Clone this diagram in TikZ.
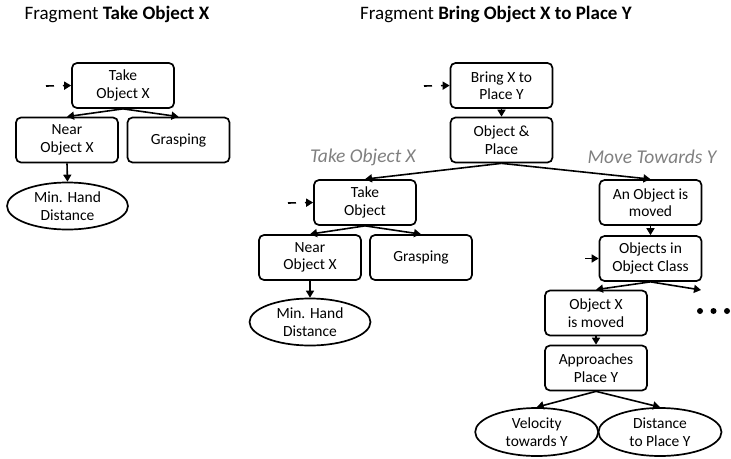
\documentclass[tikz,border=0pt]{standalone}
\usepackage{fontspec}
\setmainfont{Carlito}
\usetikzlibrary{shapes.geometric,arrows.meta}
\begin{document}
\begin{tikzpicture}[x=1pt,y=-1pt,
  box/.style={draw, rounded corners=5pt, line width=1.7pt, minimum width=102pt, minimum height=45pt, align=center, inner sep=0pt, font=\fontsize{15.5}{17.5}\selectfont},
  oval/.style={draw, ellipse, line width=1.7pt, minimum width=121pt, minimum height=47pt, align=center, inner sep=0pt, font=\fontsize{15.5}{17.5}\selectfont},
  ttl/.style={font=\fontsize{19}{22}\selectfont, inner sep=0pt},
  glbl/.style={font=\fontsize{19.5}{22}\selectfont\itshape, text=black!50, inner sep=0pt},
  arr/.style={-{Triangle[length=7pt,width=8pt]}, line width=1.6pt},
  darr/.style={arr, dash pattern=on 8pt off 9pt}]
\useasboundingbox (0,0) rectangle (731,458);

% titles
\node[ttl] (t1) at (117,14) {Fragment \textbf{Take Object X}};
\node[ttl] (t2) at (496,14) {Fragment \textbf{Bring Object X to Place Y}};

% left fragment
\node[box] (a1) at (123,85.5) {Take\\Object X};
\node[box] (a2) at (67,140) {Near\\Object X};
\node[box] (a3) at (178.5,140) {Grasping};
\node[oval] (a4) at (67.5,206) {Min. Hand\\Distance};
\coordinate (a0) at (46,86);
\draw[darr] (a0) -- (a1.west);
\draw[arr] (a1.south) -- (a2.north);
\draw[arr] (a1.south) -- (a3.north);
\draw[arr] (a2.south) -- (a4.north);

% right fragment
\node[box] (b1) at (501.5,85.5) {Bring X to\\Place Y};
\node[box] (b2) at (501.5,140) {Object \&\\Place};
\coordinate (b0) at (424,86);
\draw[darr] (b0) -- (b1.west);
\draw[arr] (b1.south) -- (b2.north);

\node[glbl] (l1) at (363,157) {Take Object X};
\node[glbl] (l2) at (652,157) {Move Towards Y};

\node[box] (c1) at (365,202.5) {Take\\Object};
\node[box] (c2) at (310,257.5) {Near\\Object X};
\node[box] (c3) at (421,257.5) {Grasping};
\node[oval] (c4) at (310,322) {Min. Hand\\Distance};
\coordinate (c0) at (288,203);
\draw[darr] (c0) -- (c1.west);
\draw[arr] (b2.south) -- (c1.north);
\draw[arr] (c1.south) -- (c2.north);
\draw[arr] (c1.south) -- (c3.north);
\draw[arr] (c2.south) -- (c4.north);

\node[box] (d1) at (650.5,202.5) {An Object is\\moved};
\node[box] (d2) at (650.5,258.5) {Objects in\\Object Class};
\node[box] (d3) at (596,313) {Object X\\is moved};
\node[box] (d4) at (596,368) {Approaches\\Place Y};
\node[oval, minimum width=123pt, minimum height=48pt] (d5) at (536.7,432) {Velocity\\towards Y};
\node[oval, minimum width=123pt, minimum height=48pt] (d6) at (660,432) {Distance\\to Place Y};
\coordinate (d0) at (585,258.5);
\coordinate (d7) at (701,290);
\draw[arr] (b2.south) -- (d1.north);
\draw[arr] (d1.south) -- (d2.north);
\draw[darr] (d0) -- (d2.west);
\draw[arr] (d2.south) -- (d3.north);
\draw[arr] (d2.south) -- (d7);
\draw[arr] (d3.south) -- (d4.north);
\draw[arr] (d4.south) -- (d5.north);
\draw[arr] (d4.south) -- (d6.north);
\fill (700,311) circle (3pt) (713.5,311) circle (3pt) (727,311) circle (3pt);
\end{tikzpicture}
\end{document}
